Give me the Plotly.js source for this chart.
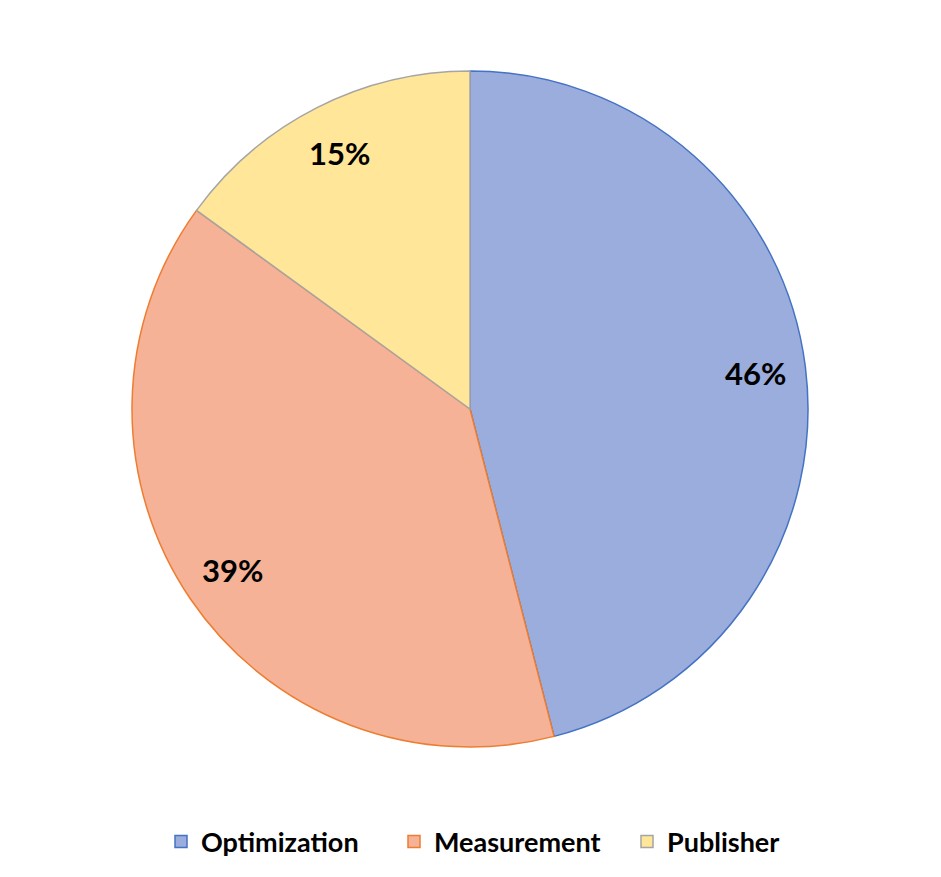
<!DOCTYPE html>
<html>
<head>
<meta charset="utf-8">
<script src="https://cdn.plot.ly/plotly-3.0.1.min.js"></script>
<style>html,body{margin:0;padding:0;background:#fff;}#chart{width:941px;height:877px;}</style>
</head>
<body>
<div id="chart"></div>
<script>
const categories = ["Optimization", "Measurement", "Publisher"];
const shares = [46, 39, 15];
const fillColors = ["#9AADDC", "#F5B296", "#FFE699"];
const lineColors = ["#4472C4", "#ED7D31", "#A5A5A5"];

const W = 941, H = 877;
const cxPx = 470, cyPx = 409, Rpx = 338;
const domX = [(cxPx - Rpx) / W, (cxPx + Rpx) / W];
const domY = [1 - (cyPx + Rpx) / H, 1 - (cyPx - Rpx) / H];

const total = shares.reduce((a, b) => a + b, 0);
const annotations = [];
let cum = 0;
shares.forEach((v, i) => {
  const mid = (cum + v / 2) / total * 2 * Math.PI;
  cum += v;
  const r = Rpx * 0.85;
  const x = (cxPx + r * Math.sin(mid)) / W;
  const y = 1 - (cyPx - r * Math.cos(mid)) / H;
  annotations.push({
    x: x, y: y, xref: "paper", yref: "paper",
    text: Math.round(v / total * 100) + "%",
    showarrow: false,
    font: {family: "Lato, 'Open Sans', sans-serif", size: 31, color: "#000", weight: "bold"},
    xanchor: "center", yanchor: "middle"
  });
});

const trace = {
  type: "pie",
  labels: categories,
  values: shares,
  sort: false,
  direction: "clockwise",
  rotation: 0,
  textinfo: "none",
  hoverinfo: "label+percent",
  marker: {colors: fillColors, line: {color: lineColors, width: 1.5}},
  domain: {x: domX, y: domY}
};

const layout = {
  width: W, height: H,
  margin: {l: 0, r: 0, t: 0, b: 0},
  paper_bgcolor: "#fff",
  showlegend: true,
  legend: {
    orientation: "h",
    x: 0.5 + 40 / W, xanchor: "center",
    y: 1 - 842 / H, yanchor: "middle",
    font: {family: "Lato, 'Open Sans', sans-serif", size: 27, color: "#000", weight: "bold"},
    entrywidth: 188,
    entrywidthmode: "pixels",
    traceorder: "normal"
  },
  annotations: annotations
};

Plotly.newPlot("chart", [trace], layout, {displayModeBar: false, staticPlot: true});
</script>
</body>
</html>
